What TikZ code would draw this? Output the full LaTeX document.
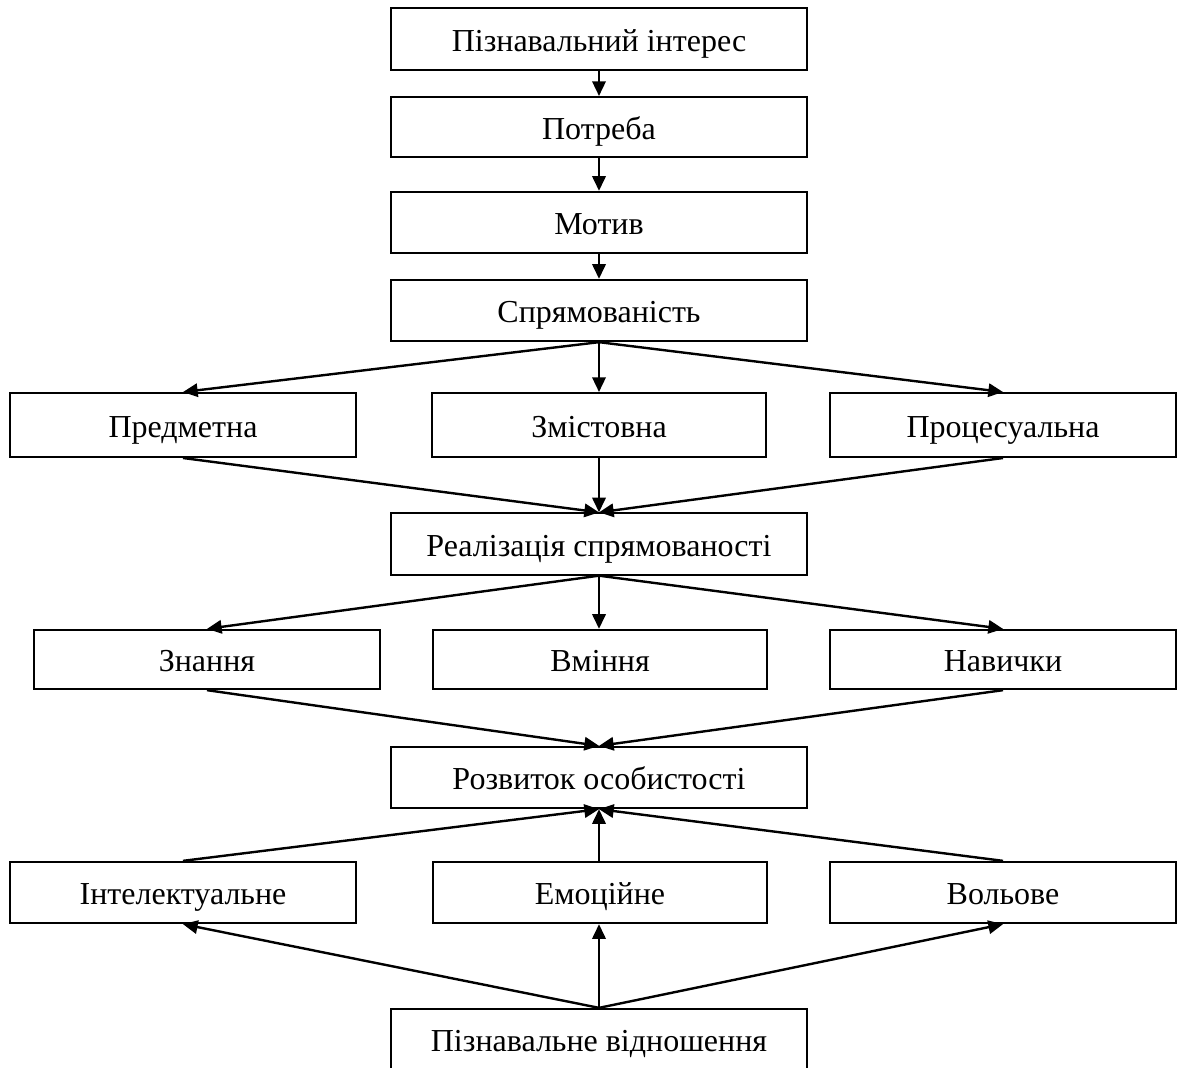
\documentclass[tikz,border=0pt]{standalone}
\usepackage{fontspec}
\setmainfont{Liberation Serif}
\usetikzlibrary{arrows.meta}

\tikzset{
  blok/.style={draw, line width=1.5pt, inner sep=0pt, minimum height=46pt,
    text height=22pt, text depth=4pt,
    font=\fontsize{24}{28}\selectfont},
  shyrokyi/.style={blok, minimum width=312pt},
  bichnyi/.style={blok, minimum width=259.5pt},
  serednii/.style={blok, minimum width=250.5pt},
  strilka/.style={line width=1.8pt, -{Triangle[length=11pt,width=10pt]}}
}

\begin{document}
\begin{tikzpicture}[x=0.75pt,y=0.75pt,yscale=-1,xscale=1]
\useasboundingbox (0,0) rectangle (1181,1067);

%Shape: Rectangle (main column)
\node[shyrokyi] (interes) at (599,39) {Пізнавальний інтерес};
\node[shyrokyi, minimum height=45pt] (potreba) at (599,127) {Потреба};
\node[shyrokyi] (motyv) at (599,222.5) {Мотив};
\node[shyrokyi] (spriam) at (599,310.5) {Спрямованість};

%Shape: Rectangle (row 1)
\node[bichnyi, minimum height=48pt] (predm) at (183,425) {Предметна};
\node[serednii, minimum height=48pt] (zmist) at (599,425) {Змістовна};
\node[bichnyi, minimum height=48pt] (proces) at (1003,425) {Процесуальна};

\node[shyrokyi] (realiz) at (599,544) {Реалізація спрямованості};

%Shape: Rectangle (row 2)
\node[bichnyi, minimum height=44.5pt] (znannia) at (207,659.5) {Знання};
\node[serednii, minimum height=44.5pt] (vminnia) at (600,659.5) {Вміння};
\node[bichnyi, minimum height=44.5pt] (navychky) at (1003,659.5) {Навички};

\node[shyrokyi] (rozvytok) at (599,777.5) {Розвиток особистості};

%Shape: Rectangle (row 3)
\node[bichnyi] (intel) at (183,892.5) {Інтелектуальне};
\node[serednii] (emoc) at (600,892.5) {Емоційне};
\node[bichnyi] (volove) at (1003,892.5) {Вольове};

\node[shyrokyi] (vidnosh) at (599,1039.5) {Пізнавальне відношення};

%Straight Lines
\draw[strilka] (interes) -- (potreba);
\draw[strilka] (potreba) -- (motyv);
\draw[strilka] (motyv) -- (spriam);

\draw[strilka] (spriam.south) -- (predm.north);
\draw[strilka] (spriam.south) -- (zmist.north);
\draw[strilka] (spriam.south) -- (proces.north);

\draw[strilka] (predm.south) -- (realiz.north);
\draw[strilka] (zmist.south) -- (realiz.north);
\draw[strilka] (proces.south) -- (realiz.north);

\draw[strilka] (realiz.south) -- (znannia.north);
\draw[strilka] (realiz.south) -- (vminnia.north -| realiz.south);
\draw[strilka] (realiz.south) -- (navychky.north);

\draw[strilka] (znannia.south) -- (rozvytok.north);
\draw[strilka] (navychky.south) -- (rozvytok.north);

\draw[strilka] (intel.north) -- (rozvytok.south);
\draw[strilka] (emoc.north -| rozvytok.south) -- (rozvytok.south);
\draw[strilka] (volove.north) -- (rozvytok.south);

\draw[strilka] (vidnosh.north) -- (intel.south);
\draw[strilka] (vidnosh.north) -- (emoc.south -| vidnosh.north);
\draw[strilka] (vidnosh.north) -- (volove.south);

\end{tikzpicture}
\end{document}
